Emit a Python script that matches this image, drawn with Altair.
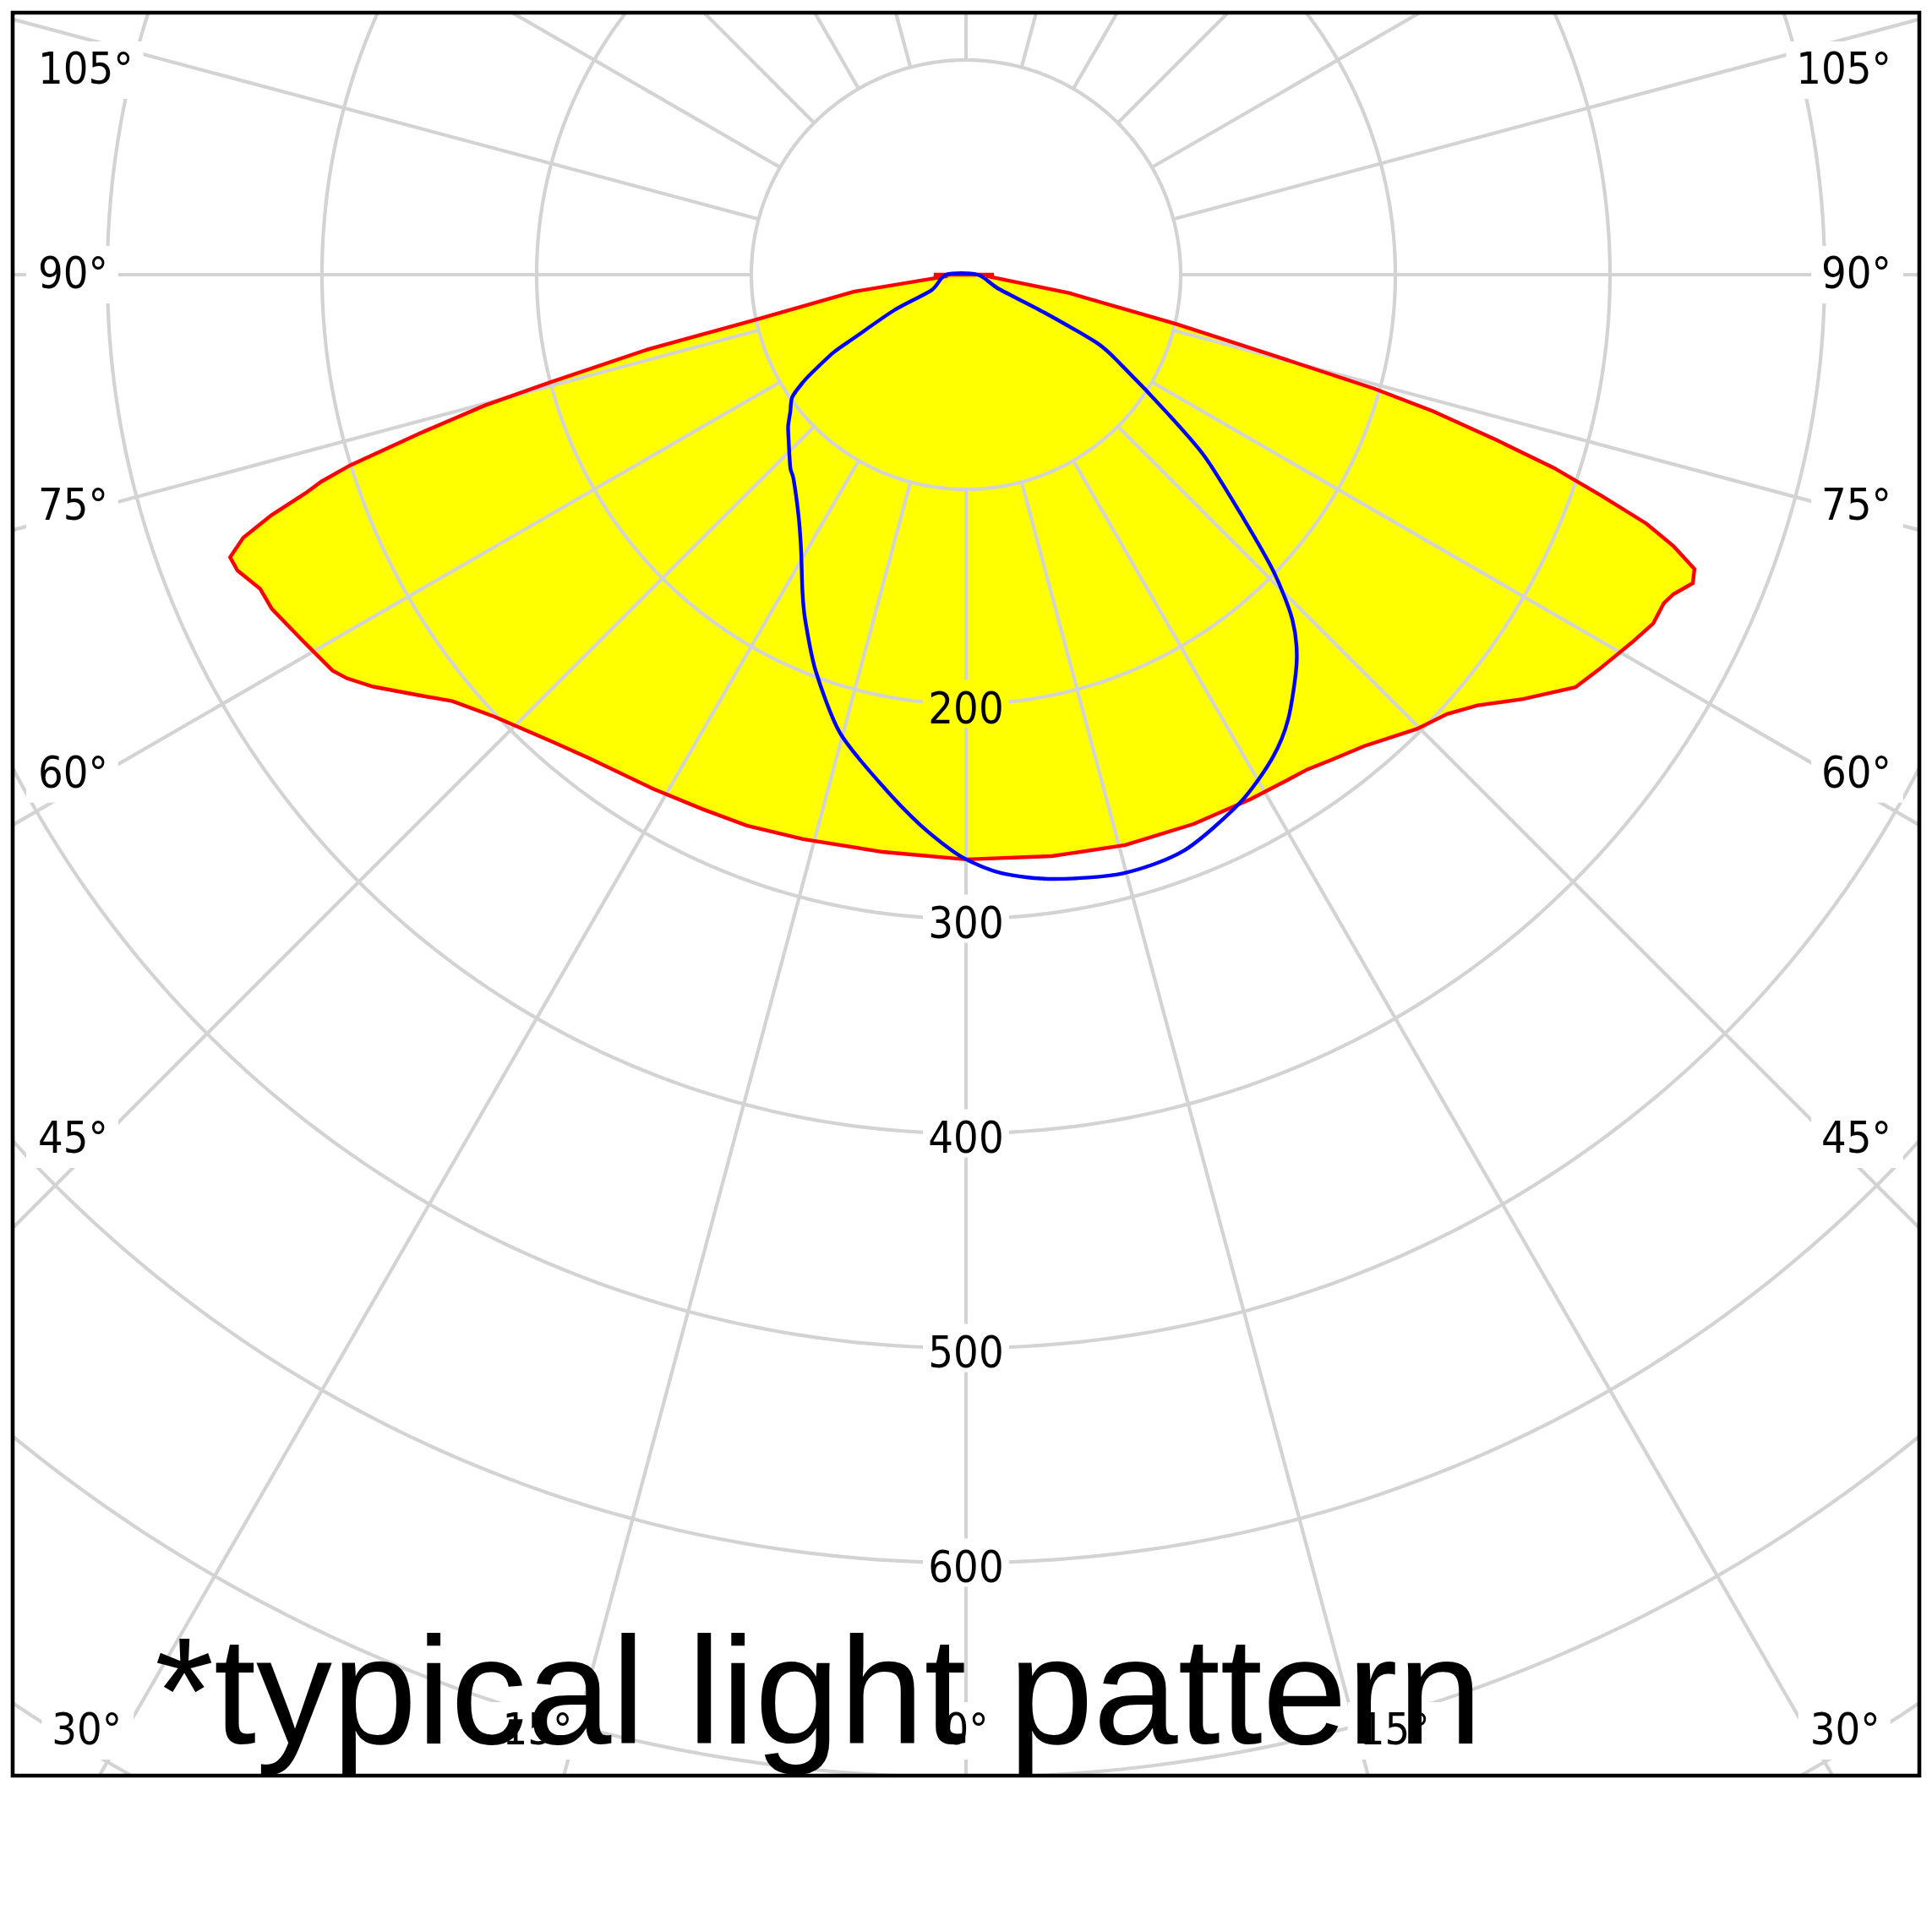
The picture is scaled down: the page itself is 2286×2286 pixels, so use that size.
import math
import altair as alt
import pandas as pd

# ---------------- data ----------------
# C0-C180 plane (red, filled). Signed angle in degrees: negative = left half, 0 = straight down.
red_angle = [-180, -90, -85.5, -81.4, -77.9, -76.8, -75.5, -74.8, -73.8, -72.8,
             -72.2, -71.7, -70.9, -70.0, -69.0, -67.9, -66.0, -64.3, -61.2, -58.0,
             -56.9, -55.2, -52.2, -50.3, -46.9, -41.7, -38.0, -31.4, -26.3, -21.7,
             -16.1, -8.2, 0, 8.4, 15.6, 22.5, 28.5, 32.5, 34.6, 37.0,
             40.2, 44.8, 47.6, 49.9, 52.7, 55.9, 58.0, 61.1, 63.1, 64.8,
             65.7, 67.0, 68.0, 69.0, 69.9, 70.8, 71.8, 72.7, 73.7, 74.4,
             75.4, 76.8, 79.9, 86.0, 90.0]
red_value = [0, 15, 8.5, 52.9, 100.3, 151.8, 199.8, 232.2, 265.2, 300.4,
             315.5, 324.0, 342.4, 358.3, 367.2, 366.3, 359.9, 358.9, 353.1, 348.0,
             344.3, 336.3, 320.2, 311.0, 301.2, 290.9, 285.7, 280.4, 277.6, 276.2,
             273.7, 271.7, 272.4, 273.8, 275.9, 277.0, 278.0, 279.0, 280.0, 283.0,
             287.5, 298.2, 303.5, 311.5, 326.2, 342.8, 347.4, 354.4, 359.0, 359.3,
             361.6, 367.8, 366.0, 353.1, 337.6, 314.0, 288.3, 258.5, 226.6, 197.6,
             143.0, 100.3, 48.7, 9.5, 13.0]

# C90-C270 plane (blue outline)
blue_angle = [-90, -65.8, -63.7, -60.5, -59.6, -57.6, -56.5, -54.8, -52.1, -49.7,
              -47.6, -42.3, -40.2, -34.8, -31.0, -27.3, -25.0, -20.8, -15.4, -9.6,
              -4.7, -0.5, 3.4, 8.3, 14.7, 20.7, 27.4, 32.4, 36.0, 40.5,
              43.4, 46.0, 48.7, 52.7, 55.6, 59.7, 62.4, 64.2, 66.6, 90]
blue_value = [9.3, 17.6, 37.1, 60.0, 71.3, 84.5, 91.4, 99.1, 103.7, 108.6,
              112.0, 121.6, 124.5, 136.7, 149.2, 166.1, 177.3, 197.3, 221.3, 240.2,
              257.4, 271.0, 279.3, 284.5, 288.3, 286.9, 277.2, 266.5, 255.5, 237.2,
              221.3, 199.3, 172.1, 139.8, 112.8, 84.4, 69.4, 40.7, 16.6, 5.4]

grid_radii = [100, 200, 300, 400, 500, 600, 700, 800]
spoke_angles = list(range(0, 360, 15))
radial_labels = [200, 300, 400, 500, 600]
side_labels = [105, 90, 75, 60, 45]
bottom_labels = [30, 15, 0]
note_text = "*typical light pattern"

# ---------------- layout ----------------
W, H = 2256, 2086          # plot area in px
PX = 2.54                  # px per cd/klm unit
XMAX = W / 2 / PX
YTOP = 310 / PX
YBOT = -(H - 310) / PX
FS = 52
LABEL_FONT = "'DejaVu Sans Condensed', 'Liberation Sans Narrow', 'DejaVu Sans', sans-serif"
GRID = "#d3d3d3"
GRID_W = 4.2
CURVE_W = 4.4


def polar(a_deg, r):
    t = math.radians(a_deg)
    return r * math.sin(t), -r * math.cos(t)


def curve_df(angles, values):
    rows = []
    for i, (a, v) in enumerate(zip(angles, values)):
        x, y = polar(a, v)
        rows.append({"idx": i, "x": x, "y": y})
    return pd.DataFrame(rows)


red_df = curve_df(red_angle, red_value)
blue_df = curve_df(blue_angle, blue_value)

circ_rows = []
for r in grid_radii:
    for i, t in enumerate(range(0, 361)):
        x, y = polar(t, r)
        circ_rows.append({"r": r, "idx": i, "x": x, "y": y})
circ_df = pd.DataFrame(circ_rows)

spoke_rows = []
for a in spoke_angles:
    x1, y1 = polar(a, grid_radii[0])
    x2, y2 = polar(a, 1000)
    spoke_rows.append({"x": x1, "y": y1, "x2": x2, "y2": y2})
spoke_df = pd.DataFrame(spoke_rows)

# labels
red_at_zero = red_value[red_angle.index(0)]
label_rows = []
bg_rows = []


def text_w(s):
    digits = sum(ch.isdigit() for ch in s)
    deg = 1 if "°" in s else 0
    return digits * 0.572 * FS + deg * 0.45 * FS


for r in radial_labels:
    label_rows.append({"t": str(r), "x": 0.0, "y": -r, "align": "center", "dy": 7})
    bg_rows.append({"x1": -51 / PX, "x2": 51 / PX, "y1": -r - 28.5 / PX, "y2": -r + 28.5 / PX,
                    "bg": "#ffff00" if r < red_at_zero else "white"})

inner_d = XMAX - 105 / PX
for a in side_labels:
    t = math.radians(a)
    y = 0.0 if a == 90 else -inner_d * math.cos(t) / math.sin(t)
    y = min(y, YTOP - 68 / PX)
    s = f"{a}°"
    w = text_w(s)
    xl = -XMAX + 30 / PX
    xr = XMAX - 33 / PX
    label_rows.append({"t": s, "x": xl, "y": y, "align": "left", "dy": 0})
    label_rows.append({"t": s, "x": xr, "y": y, "align": "right", "dy": 0})
    bg_rows.append({"x1": xl - 14 / PX, "x2": xl + (w + 12) / PX,
                    "y1": y - 34 / PX, "y2": y + 34 / PX, "bg": "white"})
    bg_rows.append({"x1": xr - (w + 12) / PX, "x2": xr + 14 / PX,
                    "y1": y - 34 / PX, "y2": y + 34 / PX, "bg": "white"})

yb = YBOT + 53 / PX
for a in bottom_labels:
    s = f"{a}°"
    w = text_w(s)
    if a == 0:
        label_rows.append({"t": s, "x": 0.0, "y": yb, "align": "center", "dy": 0})
        bg_rows.append({"x1": -(w / 2 + 14) / PX, "x2": (w / 2 + 14) / PX,
                        "y1": yb - 34 / PX, "y2": yb + 34 / PX, "bg": "white"})
    else:
        xs_ = abs(yb) * math.tan(math.radians(a))
        xl = -xs_ - 4 / PX
        xr = xs_ + 4 / PX
        label_rows.append({"t": s, "x": xl, "y": yb, "align": "right", "dy": 0})
        label_rows.append({"t": s, "x": xr, "y": yb, "align": "left", "dy": 0})
        bg_rows.append({"x1": xl - (w + 12) / PX, "x2": xl + 14 / PX,
                        "y1": yb - 34 / PX, "y2": yb + 34 / PX, "bg": "white"})
        bg_rows.append({"x1": xr - 14 / PX, "x2": xr + (w + 12) / PX,
                        "y1": yb - 34 / PX, "y2": yb + 34 / PX, "bg": "white"})

label_df = pd.DataFrame(label_rows)
bg_df = pd.DataFrame(bg_rows)

xs = alt.Scale(domain=[-XMAX, XMAX], nice=False, zero=False)
ys = alt.Scale(domain=[YBOT, YTOP], nice=False, zero=False)


def X(f):
    return alt.X(f, type="quantitative", scale=xs, axis=None)


def Y(f):
    return alt.Y(f, type="quantitative", scale=ys, axis=None)


fill = alt.Chart(red_df).mark_line(
    interpolate="linear-closed", fill="#ffff00", stroke="#ffff00", strokeWidth=0, clip=True
).encode(x=X("x"), y=Y("y"), order=alt.Order("idx:Q"))

circles = alt.Chart(circ_df).mark_line(color=GRID, strokeWidth=GRID_W, clip=True).encode(
    x=X("x"), y=Y("y"), detail="r:N", order=alt.Order("idx:Q"))

spokes = alt.Chart(spoke_df).mark_rule(color=GRID, strokeWidth=GRID_W, clip=True).encode(
    x=X("x"), y=Y("y"), x2="x2", y2="y2")

bgs = alt.Chart(bg_df).mark_rect(clip=True).encode(
    x=X("x1"), x2="x2", y=Y("y1"), y2="y2", color=alt.Color("bg:N", scale=None))

red_line = alt.Chart(red_df).mark_line(
    interpolate="linear-closed", color="#ff0000", strokeWidth=CURVE_W, clip=True
).encode(x=X("x"), y=Y("y"), order=alt.Order("idx:Q"))

blue_line = alt.Chart(blue_df).mark_line(
    interpolate="cardinal-closed", tension=0.2, color="#0000ff", strokeWidth=CURVE_W, clip=True
).encode(x=X("x"), y=Y("y"), order=alt.Order("idx:Q"))

text_layers = []
for al in ["left", "right", "center"]:
    for dy in sorted(label_df["dy"].unique()):
        sub = label_df[(label_df["align"] == al) & (label_df["dy"] == dy)]
        if len(sub) == 0:
            continue
        text_layers.append(
            alt.Chart(sub).mark_text(align=al, baseline="middle", dy=float(dy), fontSize=FS,
                                     font=LABEL_FONT, color="black").encode(
                x=X("x"), y=Y("y"), text="t:N"))

note = alt.Chart(pd.DataFrame({"t": [note_text]})).mark_text(
    align="left", baseline="alphabetic", fontSize=180, font="Liberation Sans", color="black"
).encode(x=alt.value(168), y=alt.value(2048), text="t:N")

frame = alt.Chart(pd.DataFrame({"a": [0]})).mark_rect(
    fill="white", fillOpacity=0, stroke="black", strokeWidth=4.6
).encode(x=alt.value(0), x2=alt.value(W), y=alt.value(0), y2=alt.value(H))

chart = alt.layer(fill, circles, spokes, bgs, red_line, blue_line, *text_layers, note, frame).properties(
    width=W, height=H, padding={"left": 7, "top": 7, "right": 7, "bottom": 7}, autosize="none"
).configure_view(strokeWidth=0)

chart.save("out.html", embed_options={"renderer": "svg", "actions": False})
